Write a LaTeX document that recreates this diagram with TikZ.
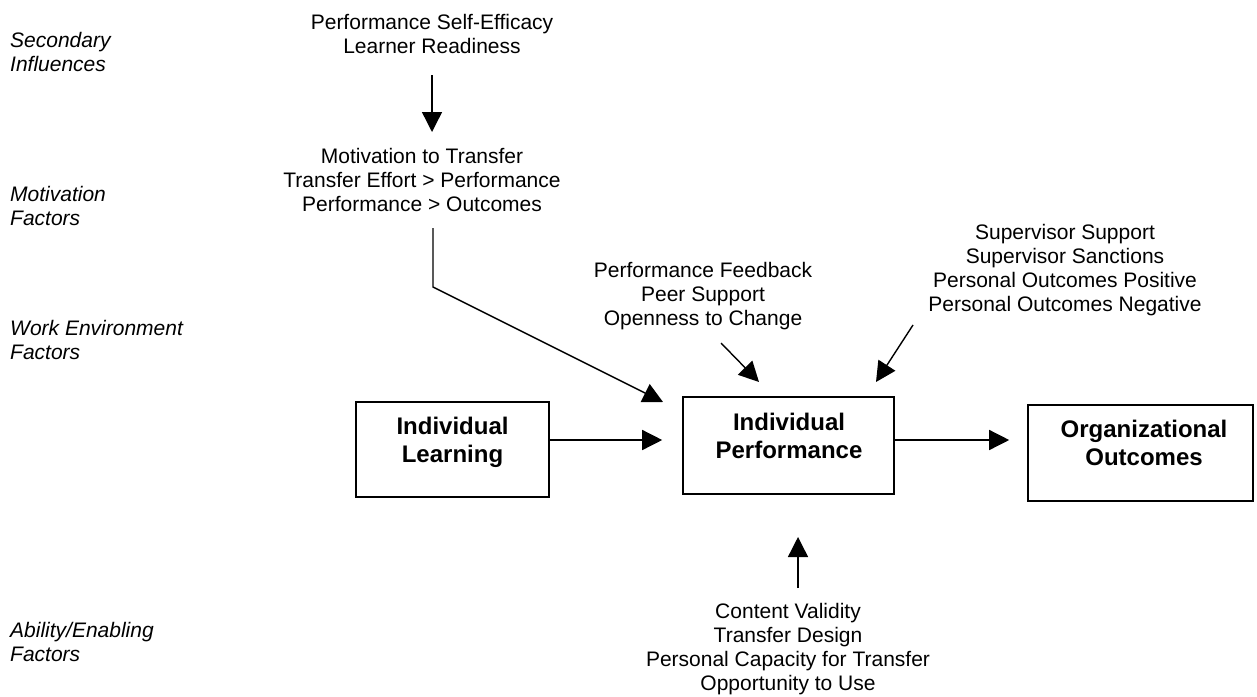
\documentclass[tikz,border=0pt]{standalone}
\usepackage{fontspec}
\setmainfont{Liberation Sans}
\usetikzlibrary{arrows.meta,calc}
\begin{document}
\begin{tikzpicture}[x=1pt,y=-1pt,
  txt/.style={font=\fontsize{21}{24}\selectfont, align=center, inner sep=0pt, anchor=base},
  lbl/.style={font=\fontsize{21}{24}\selectfont\itshape, align=left, inner sep=0pt, anchor=base west},
  boxtxt/.style={font=\fontsize{24}{28}\selectfont\bfseries, align=center, inner sep=0pt, anchor=base},
  box/.style={draw, line width=1.6pt, rectangle, inner sep=0pt},
  arr/.style={line width=1.4pt, -{Triangle[length=20pt,width=20pt]}},
  ln/.style={line width=1.4pt}]
\useasboundingbox (0,0) rectangle (1257,696);
% left labels (anchor = baseline of last line)
\node[lbl] (l1) at (10,71) {Secondary\\Influences};
\node[lbl] (l2) at (10,225) {Motivation\\Factors};
\node[lbl] (l3) at (10,359) {Work Environment\\Factors};
\node[lbl] (l4) at (10,661) {Ability/Enabling\\Factors};
% boxes
\node[box, minimum width=193pt, minimum height=95pt] (il) at (452.5,449.5) {};
\node[box, minimum width=211pt, minimum height=97pt] (ip) at (788.5,445.5) {};
\node[box, minimum width=225pt, minimum height=96pt] (oo) at (1140.5,453) {};
\node[boxtxt] (ilt) at (452.5,462) {Individual\\Learning};
\node[boxtxt] (ipt) at (789,458) {Individual\\Performance};
\node[boxtxt] (oot) at (1144,465) {Organizational\\Outcomes};
% factor texts
\node[txt] (sec) at (432,53) {Performance Self-Efficacy\\Learner Readiness};
\node[txt] (mot) at (422,211) {Motivation to Transfer\\Transfer Effort > Performance\\Performance > Outcomes};
\node[txt] (pf) at (703,325) {Performance Feedback\\Peer Support\\Openness to Change};
\node[txt] (sup) at (1065,311) {Supervisor Support\\Supervisor Sanctions\\Personal Outcomes Positive\\Personal Outcomes Negative};
\node[txt] (cv) at (788,690) {Content Validity\\Transfer Design\\Personal Capacity for Transfer\\Opportunity to Use};
% connector coordinates
\coordinate (secS) at (432,75);
\coordinate (motN) at (432,132);
\coordinate (motS) at (433,228);
\coordinate (bend) at (433,287);
\coordinate (ipNW) at (663,402);
\coordinate (pfS) at (721,343);
\coordinate (ipN1) at (759,382);
\coordinate (supS) at (913,325);
\coordinate (ipN2) at (876,382);
\coordinate (cvN) at (798,588);
\coordinate (ipS) at (798,537);
% connectors
\draw[arr] (secS) -- (motN);
\draw[arr] (motS) -- (bend) -- (ipNW);
\draw[arr] (pfS) -- (ipN1);
\draw[arr] (supS) -- (ipN2);
\draw[arr] (cvN) -- (ipS);
\draw[arr] (il.east |- 0,440) -- ([xshift=-20pt]ip.west |- 0,440);
\draw[arr] (ip.east |- 0,440) -- ([xshift=-18pt]oo.west |- 0,440);
\end{tikzpicture}
\end{document}
